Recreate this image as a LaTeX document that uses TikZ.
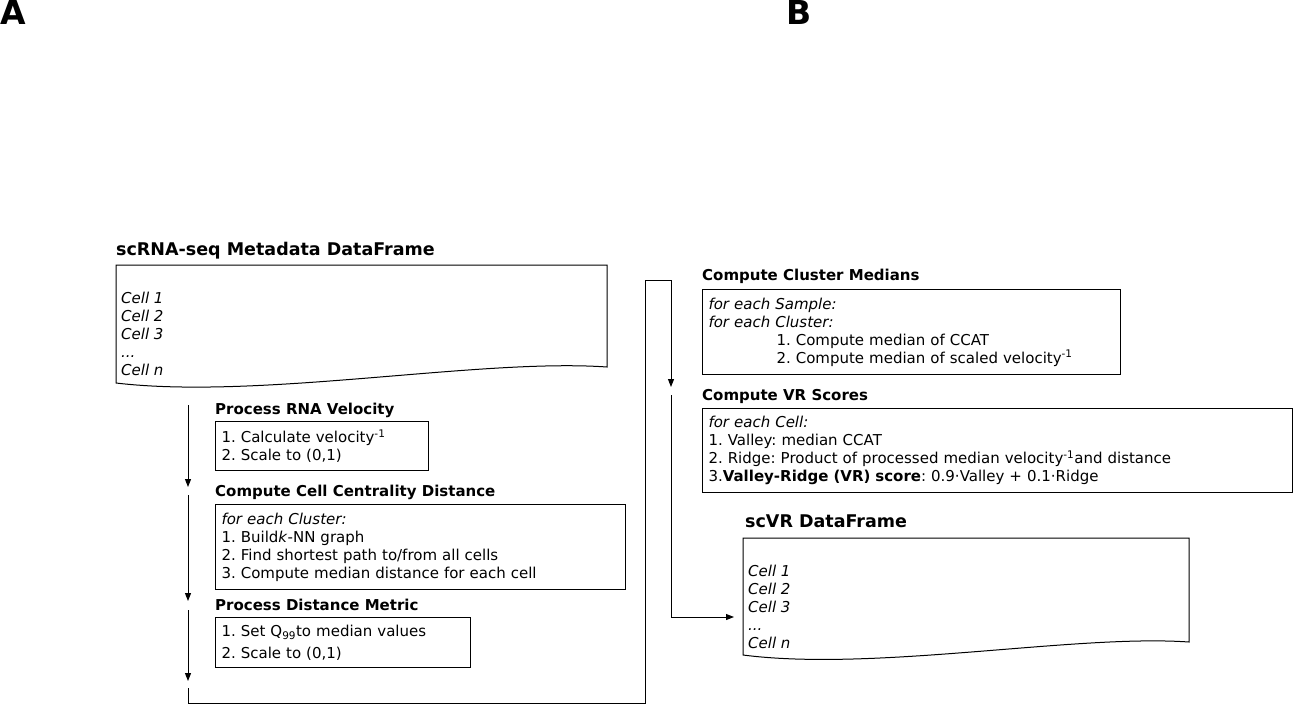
\documentclass[tikz,border=0pt]{standalone}
\usepackage{fontspec}
\setmainfont{DejaVu Sans}
\usetikzlibrary{arrows.meta}
\frenchspacing

\tikzset{
  every node/.style={inner sep=0pt, font=\fontsize{15}{18}\selectfont},
  panel/.style={anchor=north west, font=\fontsize{33}{36}\selectfont\bfseries},
  steptitle/.style={anchor=base west, font=\fontsize{15}{18}\selectfont\bfseries},
  dftitle/.style={anchor=base west, font=\fontsize{17.5}{20}\selectfont\bfseries},
  stepbox/.style={draw, line width=1pt, anchor=north west, align=left, inner xsep=6pt, inner ysep=0pt},
  dftext/.style={anchor=north west, align=left, font=\fontsize{15}{18}\selectfont\itshape},
  docline/.style={line width=1pt},
  flow/.style={line width=1pt, -{Triangle[length=8pt,width=6pt]}},
  wire/.style={line width=1pt},
}

\begin{document}
\begin{tikzpicture}[x=1pt,y=-1pt]
\useasboundingbox (0,0) rectangle (1293,705);

% panel letters
\node[panel] (pA) at (0,0) {A};
\node[panel] (pB) at (786,0) {B};

% input data frame
\node[dftitle] (rnadftitle) at (116,255) {scRNA-seq Metadata DataFrame};
\draw[docline] (116,265) -- (607,265) -- (607,367) .. controls (480,358) and (260,400) .. (116,383) -- cycle;
\node[dftext] (rnadf) at (121,292) {Cell 1\\Cell 2\\Cell 3\\...\\Cell n};

% step 1
\node[steptitle] (veltitle) at (215,414) {Process RNA Velocity};
\node[stepbox, text width=201pt, minimum height=49pt] (velbox) at (215,421)
  {1. Calculate velocity\textsuperscript{-1}\\2. Scale to (0,1)};

% step 2
\node[steptitle] (ccdtitle) at (215,496) {Compute Cell Centrality Distance};
\node[stepbox, text width=398pt, minimum height=85pt] (ccdbox) at (215,504)
  {\textit{for each Cluster:}\\1. Build\textit{k}-NN graph\\2. Find shortest path to/from all cells\\3. Compute median distance for each cell};

% step 3
\node[steptitle] (disttitle) at (215,610) {Process Distance Metric};
\node[stepbox, text width=243pt, minimum height=50pt] (distbox) at (215,617)
  {1. Set Q\textsubscript{99}to median values\\[4pt]2. Scale to (0,1)};

% step 4
\node[steptitle] (medtitle) at (702,280) {Compute Cluster Medians};
\node[stepbox, text width=406pt, minimum height=85pt] (medbox) at (702,289)
  {\textit{for each Sample:}\\\textit{for each Cluster:}\\\hspace*{68pt}1. Compute median of CCAT\\\hspace*{68pt}2. Compute median of scaled velocity\textsuperscript{-1}};

% step 5
\node[steptitle] (vrtitle) at (702,400) {Compute VR Scores};
\node[stepbox, text width=578pt, minimum height=84pt] (vrbox) at (702,408)
  {\textit{for each Cell:}\\1. Valley: median CCAT\\2. Ridge: Product of processed median velocity\textsuperscript{-1}and distance\\3.\textbf{Valley-Ridge (VR) score}: 0.9·Valley + 0.1·Ridge};

% output data frame
\node[dftitle] (vrdftitle) at (745,527) {scVR DataFrame};
\draw[docline] (743,538) -- (1189,538) -- (1189,642) .. controls (1075,634) and (875,672) .. (743,655) -- cycle;
\node[dftext] (vrdf) at (748,565) {Cell 1\\Cell 2\\Cell 3\\...\\Cell n};

% flow
\coordinate (f0) at (188,405);
\coordinate (f1) at (188,487);
\coordinate (f2) at (188,495);
\coordinate (f3) at (188,601);
\coordinate (f4) at (188,610);
\coordinate (f5) at (188,681);
\coordinate (f6) at (188,688);
\coordinate (f7) at (671,387);
\coordinate (f8) at (671,395);
\coordinate (f9) at (734,617);

\draw[flow] (f0) -- (f1);
\draw[flow] (f2) -- (f3);
\draw[flow] (f4) -- (f5);
\draw[flow] (f6) -- (188,703) -- (645,703) -- (645,280) -- (671,280) -- (f7);
\draw[flow] (f8) -- (671,617) -- (f9);

\end{tikzpicture}
\end{document}
